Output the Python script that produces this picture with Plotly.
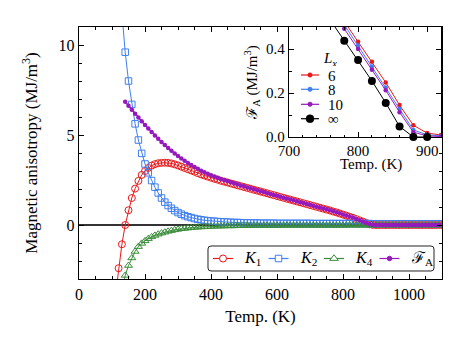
import plotly.graph_objects as go

# ---------------- data ----------------
T_K1 = list(range(110, 1101, 10))
K1 = [-4.0, -2.4, -1.07, 0.0, 0.82, 1.5, 2.02, 2.45, 2.78, 3.0,
      3.17, 3.3, 3.38, 3.43, 3.45, 3.46, 3.45, 3.42, 3.37, 3.31,
      3.24, 3.17, 3.1, 3.03, 2.96, 2.88, 2.81, 2.75, 2.69, 2.63,
      2.57, 2.52, 2.46, 2.41, 2.36, 2.31, 2.26, 2.21, 2.16, 2.11,
      2.06, 2.01, 1.96, 1.91, 1.86, 1.81, 1.76, 1.71, 1.66, 1.61,
      1.56, 1.51, 1.46, 1.41, 1.36, 1.31, 1.26, 1.21, 1.16, 1.11,
      1.06, 1.01, 0.96, 0.91, 0.86, 0.81, 0.75, 0.7, 0.64, 0.58,
      0.52, 0.46, 0.4, 0.33, 0.26, 0.19, 0.11, 0.04, 0.01,
      0, 0, 0, 0, 0, 0, 0, 0, 0, 0, 0, 0, 0, 0, 0, 0, 0, 0, 0, 0, 0]

T_K2 = list(range(130, 1101, 10))
K2 = [11.8, 9.6, 8.0, 6.7, 5.62, 4.72, 3.98, 3.39, 2.9, 2.47,
      2.1, 1.78, 1.5, 1.27, 1.08, 0.93, 0.8, 0.69, 0.6, 0.52,
      0.46, 0.41, 0.36, 0.32, 0.29, 0.26, 0.24, 0.22, 0.21, 0.19,
      0.18, 0.17, 0.16, 0.15, 0.14, 0.14, 0.13, 0.12,
      0.12, 0.11, 0.11, 0.11, 0.1, 0.1, 0.1, 0.1, 0.1, 0.09,
      0.09, 0.09, 0.09, 0.09, 0.09, 0.09, 0.09, 0.09, 0.09, 0.09,
      0.08, 0.08, 0.08, 0.08, 0.08, 0.08, 0.08, 0.08, 0.08, 0.08,
      0.08, 0.08, 0.08, 0.08, 0.08, 0.08, 0.08, 0.08,
      0.07, 0.07, 0.07, 0.07, 0.07, 0.07, 0.07, 0.07, 0.07, 0.07, 0.07,
      0.07, 0.07, 0.07, 0.07, 0.07, 0.07, 0.07, 0.07, 0.07, 0.07, 0.07]

T_K4 = list(range(130, 1101, 10))
K4 = [-3.9, -2.8, -2.25, -1.83, -1.47, -1.2, -1.02, -0.88, -0.76, -0.66,
      -0.58, -0.51, -0.45, -0.4, -0.35, -0.31, -0.27, -0.24, -0.21, -0.19,
      -0.17, -0.15, -0.13, -0.12, -0.11, -0.1, -0.09, -0.08,
      -0.07, -0.07, -0.06, -0.06, -0.05, -0.05, -0.05, -0.04, -0.04, -0.04,
      -0.03, -0.03, -0.03, -0.03, -0.03, -0.03, -0.03, -0.03, -0.03, -0.03,
      -0.02, -0.02, -0.02, -0.02, -0.02, -0.02, -0.02, -0.02, -0.02, -0.02,
      -0.02, -0.02, -0.02, -0.02, -0.02, -0.02, -0.02, -0.02, -0.02, -0.02,
      -0.01, -0.01, -0.01, -0.01, -0.01, -0.01, -0.01, -0.01, -0.01, -0.01,
      -0.01, -0.01, -0.01, -0.01, -0.01, -0.01, -0.01, -0.01, -0.01, -0.01,
      -0.01, -0.01, -0.01, -0.01, -0.01, -0.01, -0.01, -0.01, -0.01, -0.01]

T_FA = list(range(140, 1101, 10))
FA = [6.85, 6.62, 6.4, 6.18, 5.97, 5.76, 5.56, 5.36, 5.16, 4.97,
      4.79, 4.61, 4.44, 4.28, 4.12, 3.97, 3.83, 3.7, 3.57, 3.45,
      3.33, 3.22, 3.12, 3.02, 2.93, 2.85, 2.77, 2.7, 2.63, 2.56,
      2.5, 2.44, 2.38, 2.32, 2.26, 2.2, 2.15, 2.09, 2.04, 1.98,
      1.93, 1.88, 1.83, 1.77, 1.72, 1.67, 1.62, 1.57, 1.52, 1.47,
      1.42, 1.37, 1.32, 1.27, 1.22, 1.17, 1.12, 1.07, 1.02, 0.97,
      0.92, 0.87, 0.82, 0.76, 0.71, 0.65, 0.59, 0.53, 0.47, 0.41,
      0.34, 0.27, 0.2, 0.12, 0.05, 0.02,
      0, 0, 0, 0, 0, 0, 0, 0, 0, 0, 0, 0, 0, 0, 0, 0, 0, 0, 0, 0, 0]

# inset: finite-size F_A
T_L6 = [780, 800, 820, 840, 860, 880, 900, 920]
FA_L6 = [0.525, 0.433, 0.342, 0.248, 0.145, 0.053, 0.018, 0.009]
T_L8 = [780, 800, 820, 840, 860, 880, 900, 920]
FA_L8 = [0.51, 0.415, 0.32, 0.225, 0.127, 0.032, 0.01, 0.005]
T_L10 = [780, 800, 820, 840, 860, 880, 900, 920]
FA_L10 = [0.492, 0.40, 0.306, 0.212, 0.113, 0.022, 0.005, 0.002]
T_Linf = [760, 780, 800, 820, 840, 860, 880, 900]
FA_Linf = [0.53, 0.438, 0.35, 0.255, 0.155, 0.048, 0.0, 0.0]

main_labels = ["<i>K</i><sub>1</sub>", "<i>K</i><sub>2</sub>",
               "<i>K</i><sub>4</sub>", "ℱ<sub>A</sub>"]
inset_labels = ["6", "8", "10", "∞"]

# ---------------- styling ----------------
RED = "#e8191c"
BLUE = "#3f7ff0"
GREEN = "#3a8c3a"
PURPLE = "#9619bd"
BLACK = "#000000"
FONT = "Liberation Serif"

fig = go.Figure()

fig.add_trace(go.Scatter(x=T_K1, y=K1, mode="lines+markers",
                         line=dict(color=RED, width=1),
                         marker=dict(symbol="circle-open", size=7, color=RED,
                                     line=dict(width=1)),
                         showlegend=False))
fig.add_trace(go.Scatter(x=T_K2, y=K2, mode="lines+markers",
                         line=dict(color=BLUE, width=1),
                         marker=dict(symbol="square-open", size=6.5, color=BLUE,
                                     line=dict(width=1)),
                         showlegend=False))
fig.add_trace(go.Scatter(x=T_K4, y=K4, mode="lines+markers",
                         line=dict(color=GREEN, width=1),
                         marker=dict(symbol="triangle-up-open", size=7, color=GREEN,
                                     line=dict(width=1)),
                         showlegend=False))
fig.add_trace(go.Scatter(x=T_FA, y=FA, mode="lines+markers",
                         line=dict(color=PURPLE, width=1.5),
                         marker=dict(symbol="circle", size=4.5, color=PURPLE),
                         showlegend=False))

# inset traces
for tx, ty, col, ms in [(T_L6, FA_L6, RED, 4.5), (T_L8, FA_L8, BLUE, 4.5),
                        (T_L10, FA_L10, PURPLE, 4.5)]:
    fig.add_trace(go.Scatter(x=tx, y=ty, mode="lines+markers", xaxis="x2", yaxis="y2",
                             line=dict(color=col, width=1),
                             marker=dict(symbol="circle", size=ms, color=col),
                             showlegend=False))
fig.add_trace(go.Scatter(x=T_Linf, y=FA_Linf, mode="lines", xaxis="x2", yaxis="y2",
                         line=dict(color=BLACK, width=1), showlegend=False))
fig.add_trace(go.Scatter(x=T_Linf[1:], y=FA_Linf[1:], mode="markers", xaxis="x2", yaxis="y2",
                         marker=dict(symbol="circle", size=8, color=BLACK),
                         cliponaxis=False, showlegend=False))

# ---------------- layout ----------------
W, H = 469, 354
L, R, T, B = 79, 27, 27, 75
PW, PH = W - L - R, H - T - B


def px(xp, yp):
    return ((xp - L) / PW, (H - B - yp) / PH)


axis_common = dict(showline=True, linecolor="black", linewidth=1.3, mirror="ticks",
                   ticks="inside", ticklen=5, tickwidth=1, tickcolor="black",
                   showgrid=False, color="black", automargin=False)

TF = lambda s: dict(family=FONT, size=s, color="black", weight="normal")

fig.update_layout(
    width=W, height=H,
    margin=dict(l=L, r=R, t=T, b=B, autoexpand=False),
    paper_bgcolor="white", plot_bgcolor="white",
    font=TF(16),
    hovermode=False,
    xaxis=dict(range=[0, 1100], tick0=0, dtick=200, zeroline=False,
               minor=dict(dtick=50, ticklen=2.7, ticks="inside", tickwidth=1, tickcolor="black"),
               tickfont=TF(16),
               title=dict(text="Temp. (K)", font=TF(17), standoff=8),
               **axis_common),
    yaxis=dict(range=[-3, 11], tick0=0, dtick=5, zeroline=True,
               zerolinecolor="#333333", zerolinewidth=1.3,
               minor=dict(dtick=1, ticklen=2.7, ticks="inside", tickwidth=1, tickcolor="black"),
               tickfont=TF(16),
               title=dict(text="Magnetic anisotropy (MJ/m<sup>3</sup>)", font=TF(17),
                          standoff=16),
               **axis_common),
    xaxis2=dict(domain=[(289 - L) / PW, (441 - L) / PW], anchor="y2",
                range=[700, 920], tick0=700, dtick=100, zeroline=False,
                minor=dict(dtick=20, ticklen=2.5, ticks="inside", tickwidth=1, tickcolor="black"),
                tickfont=TF(15),
                **axis_common),
    yaxis2=dict(domain=[(H - B - 137) / PH, 1.0], anchor="x2",
                range=[0, 0.5], tick0=0, dtick=0.2, tickformat=".1f", zeroline=False,
                minor=dict(dtick=0.1, ticklen=2.5, ticks="inside", tickwidth=1, tickcolor="black"),
                tickfont=TF(15),
                title=dict(text="ℱ<sub>A</sub> (MJ/m<sup>3</sup>)", font=TF(15), standoff=4),
                **axis_common),
)

shapes = []
annotations = []

# inset x-axis title (placed precisely)
xa, ya = px(371, 164)
annotations.append(dict(x=xa, y=ya, xref="paper", yref="paper", text="Temp. (K)",
                        showarrow=False, xanchor="center", yanchor="middle",
                        borderpad=0, font=TF(15)))


def marker_shape(cx, cy, kind, size, color, fill, lw=1):
    xa, ya = px(cx, cy)
    r = size / 2
    base = dict(xref="paper", yref="paper", xsizemode="pixel", ysizemode="pixel",
                xanchor=xa, yanchor=ya, line=dict(color=color, width=lw),
                fillcolor=fill, layer="above")
    if kind == "circle":
        base.update(type="circle", x0=-r, x1=r, y0=-r, y1=r)
    elif kind == "square":
        base.update(type="rect", x0=-r, x1=r, y0=-r, y1=r)
    else:
        rt = r * 2 / 3 ** 0.5
        base.update(type="path", path=f"M{-rt:.2f},{-r/2:.2f} L{rt:.2f},{-r/2:.2f} L0,{r:.2f} Z")
    return base


def line_shape(x0p, x1p, yp, color, width=1):
    a = px(x0p, yp)
    b = px(x1p, yp)
    return dict(type="line", xref="paper", yref="paper", x0=a[0], x1=b[0], y0=a[1], y1=b[1],
                line=dict(color=color, width=width), layer="above")


# main legend frame (rounded)
bx0, by0, bx1, by1, rr = 208, 246, 434, 271, 3
p = lambda a, b: "%.5f,%.5f" % px(a, b)
path = ("M" + p(bx0 + rr, by0) + " L" + p(bx1 - rr, by0) + " Q" + p(bx1, by0) + " " + p(bx1, by0 + rr) +
        " L" + p(bx1, by1 - rr) + " Q" + p(bx1, by1) + " " + p(bx1 - rr, by1) +
        " L" + p(bx0 + rr, by1) + " Q" + p(bx0, by1) + " " + p(bx0, by1 - rr) +
        " L" + p(bx0, by0 + rr) + " Q" + p(bx0, by0) + " " + p(bx0 + rr, by0) + " Z")
shapes.append(dict(type="path", xref="paper", yref="paper", path=path,
                   line=dict(color="#222222", width=1), fillcolor="white", layer="above"))

leg_y = 258.5
main_items = [(223, RED, "circle", 7, "white"), (278.5, BLUE, "square", 6.5, "white"),
              (334, GREEN, "triangle", 7.5, "white"), (389.5, PURPLE, "circle", 4.5, PURPLE)]
for (mx, col, kind, sz, fill), lab in zip(main_items, main_labels):
    shapes.append(line_shape(mx - 10, mx + 10, leg_y, col, 1.2))
    shapes.append(marker_shape(mx, leg_y, kind, sz, col, fill))
    xa, ya = px(mx + 19, leg_y)
    annotations.append(dict(x=xa, y=ya, xref="paper", yref="paper", text=lab, showarrow=False,
                            xanchor="left", yanchor="middle", font=TF(16)))

# inset legend
ins_items = [(75, RED, 4.5), (89.3, BLUE, 4.5), (104.3, PURPLE, 4.5), (118.7, BLACK, 8)]
for (iy, col, sz), lab in zip(ins_items, inset_labels):
    shapes.append(line_shape(301, 319, iy, col, 1.2))
    shapes.append(marker_shape(310, iy, "circle", sz, col, col, lw=0.5))
    xa, ya = px(327, iy)
    annotations.append(dict(x=xa, y=ya, xref="paper", yref="paper", text=lab, showarrow=False,
                            xanchor="left", yanchor="middle", height=13, borderpad=0,
                            font=TF(15)))
xa, ya = px(322, 60)
annotations.append(dict(x=xa, y=ya, xref="paper", yref="paper", text="<i>L</i><sub><i>x</i></sub>",
                        showarrow=False, xanchor="left", yanchor="middle", height=13, borderpad=0,
                        font=TF(15)))

fig.update_layout(shapes=shapes, annotations=annotations)

fig.write_html("out.html", config={"displayModeBar": False, "staticPlot": True},
               post_script="document.body.style.margin='0px';document.body.style.overflow='hidden';")
